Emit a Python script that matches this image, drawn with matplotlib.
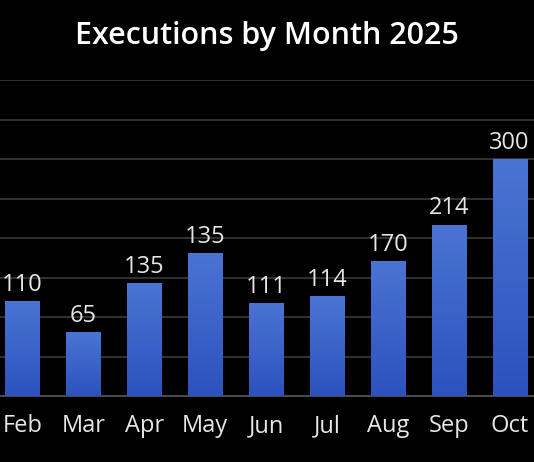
import numpy as np
import matplotlib
matplotlib.use('Agg')
import matplotlib.pyplot as plt
from matplotlib.colors import LinearSegmentedColormap

months = ['Feb', 'Mar', 'Apr', 'May', 'Jun', 'Jul', 'Aug', 'Sep', 'Oct']
# bar heights as drawn in the picture (gridlines every 50)
heights = [120, 81, 143, 181, 118, 126, 171, 217, 300]
# numbers printed above the bars
labels = ['110', '65', '135', '135', '111', '114', '170', '214', '300']

plt.rcParams['font.family'] = ['Open Sans', 'DejaVu Sans']
text_col = '#e6e6e6'

fig = plt.figure(figsize=(5.34, 4.62), dpi=100, facecolor='black')
ax = fig.add_axes([0, 1 - 396 / 462, 1, (396 - 80) / 462])
ax.set_facecolor('black')

x = np.arange(len(months))
bars = ax.bar(x, heights, width=0.56, color='#3d64c8', zorder=2)

# vertical gradient inside each bar
cmap = LinearSegmentedColormap.from_list('blu', ['#2c52bd', '#4a74d4'])
grad = np.linspace(0, 1, 256).reshape(-1, 1)
for b in bars:
    x0, w, h = b.get_x(), b.get_width(), b.get_height()
    im = ax.imshow(grad, cmap=cmap, extent=[x0, x0 + w, 0, h], origin='lower',
                   aspect='auto', zorder=3)
    im.set_clip_path(b)

for xi, h, lab in zip(x, heights, labels):
    ax.annotate(lab, (xi, h), xytext=(0, 3), textcoords='offset points',
                ha='center', va='bottom', color=text_col, fontsize=17)

# the first month sits close to the left edge, as in the cropped original
ax.set_xlim(-0.37, 8.40)
ax.set_ylim(0, 400)
ax.set_yticks(np.arange(0, 401, 50))
ax.yaxis.grid(True, color='#303030', linewidth=1.5, zorder=0)
ax.set_axisbelow(True)
ax.tick_params(axis='y', left=False, labelleft=False)
ax.tick_params(axis='x', length=0, pad=13, labelsize=17, colors=text_col)
ax.set_xticks(x)
ax.set_xticklabels(months)
for s in ['top', 'left', 'right']:
    ax.spines[s].set_visible(False)
ax.spines['bottom'].set_color('#4a4a4a')
ax.spines['bottom'].set_linewidth(1.5)

fig.text(0.5, 1 - 36 / 462, 'Executions by Month 2025', ha='center', va='center',
         color='white', fontsize=22, fontweight='semibold')

fig.savefig('out.png', dpi=100, facecolor='black')
